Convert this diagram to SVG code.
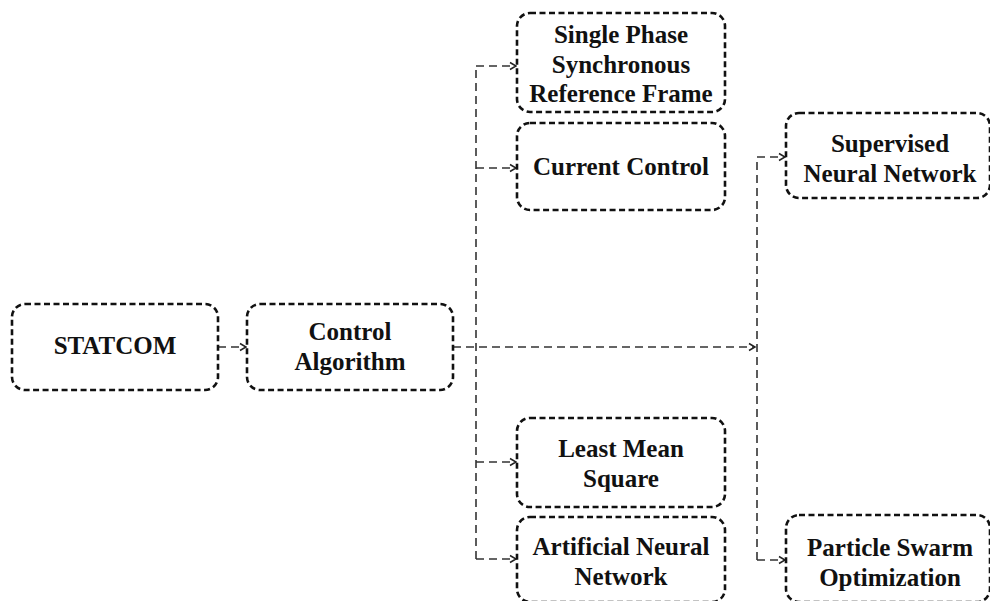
<svg xmlns="http://www.w3.org/2000/svg" width="990" height="601" viewBox="0 0 990 601">
<defs>
<style>
.box{fill:#fff;stroke:#111;stroke-width:2.6;stroke-dasharray:6 3.5}
.t{font-family:"Liberation Serif","Times New Roman",serif;font-weight:bold;font-size:25px;fill:#111;text-anchor:middle}
.c{fill:none;stroke:#333;stroke-width:1.6;stroke-dasharray:8 5}
</style>
<marker id="ah" markerWidth="10" markerHeight="10" refX="8" refY="5" orient="auto" markerUnits="userSpaceOnUse">
<path d="M2,1.5 L8,5 L2,8.5" fill="none" stroke="#222" stroke-width="1.5"/>
</marker>
</defs>
<rect width="990" height="601" fill="#fff"/>
<g id="connectors">
<line class="c" x1="218" y1="347" x2="246" y2="347" marker-end="url(#ah)"/>
<line class="c" x1="453" y1="347" x2="755" y2="347" marker-end="url(#ah)"/>
<path class="c" d="M476,559 L476,66"/>
<line class="c" x1="476" y1="66" x2="516" y2="66" marker-end="url(#ah)"/>
<line class="c" x1="476" y1="168" x2="516" y2="168" marker-end="url(#ah)"/>
<line class="c" x1="476" y1="462" x2="516" y2="462" marker-end="url(#ah)"/>
<line class="c" x1="476" y1="559" x2="516" y2="559" marker-end="url(#ah)"/>
<path class="c" d="M757,560 L757,157"/>
<line class="c" x1="757" y1="157" x2="785" y2="157" marker-end="url(#ah)"/>
<line class="c" x1="757" y1="560" x2="785" y2="560" marker-end="url(#ah)"/>
</g>
<g id="statcom">
<rect class="box" x="12" y="304" width="206" height="86" rx="13"/>
<text class="t" x="115" y="354">STATCOM</text>
</g>
<g id="control">
<rect class="box" x="247" y="304" width="206" height="86" rx="13"/>
<text class="t" x="350" y="340">Control</text>
<text class="t" x="350" y="370">Algorithm</text>
</g>
<g id="sprf">
<rect class="box" x="517" y="13" width="208" height="99" rx="13"/>
<text class="t" x="621" y="43">Single Phase</text>
<text class="t" x="621" y="73">Synchronous</text>
<text class="t" x="621" y="102">Reference Frame</text>
</g>
<g id="current">
<rect class="box" x="517" y="123" width="208" height="87" rx="13"/>
<text class="t" x="621" y="175">Current Control</text>
</g>
<g id="lms">
<rect class="box" x="517" y="418" width="208" height="89" rx="13"/>
<text class="t" x="621" y="457">Least Mean</text>
<text class="t" x="621" y="487">Square</text>
</g>
<g id="ann">
<rect class="box" x="517" y="517" width="208" height="85" rx="13"/>
<text class="t" x="621" y="555">Artificial Neural</text>
<text class="t" x="621" y="585">Network</text>
</g>
<g id="snn">
<rect class="box" x="786" y="113" width="204" height="85" rx="13"/>
<text class="t" x="890" y="152">Supervised</text>
<text class="t" x="890" y="182">Neural Network</text>
</g>
<g id="pso">
<rect class="box" x="786" y="515" width="204" height="87" rx="13"/>
<text class="t" x="890" y="556">Particle Swarm</text>
<text class="t" x="890" y="586">Optimization</text>
</g>
</svg>
